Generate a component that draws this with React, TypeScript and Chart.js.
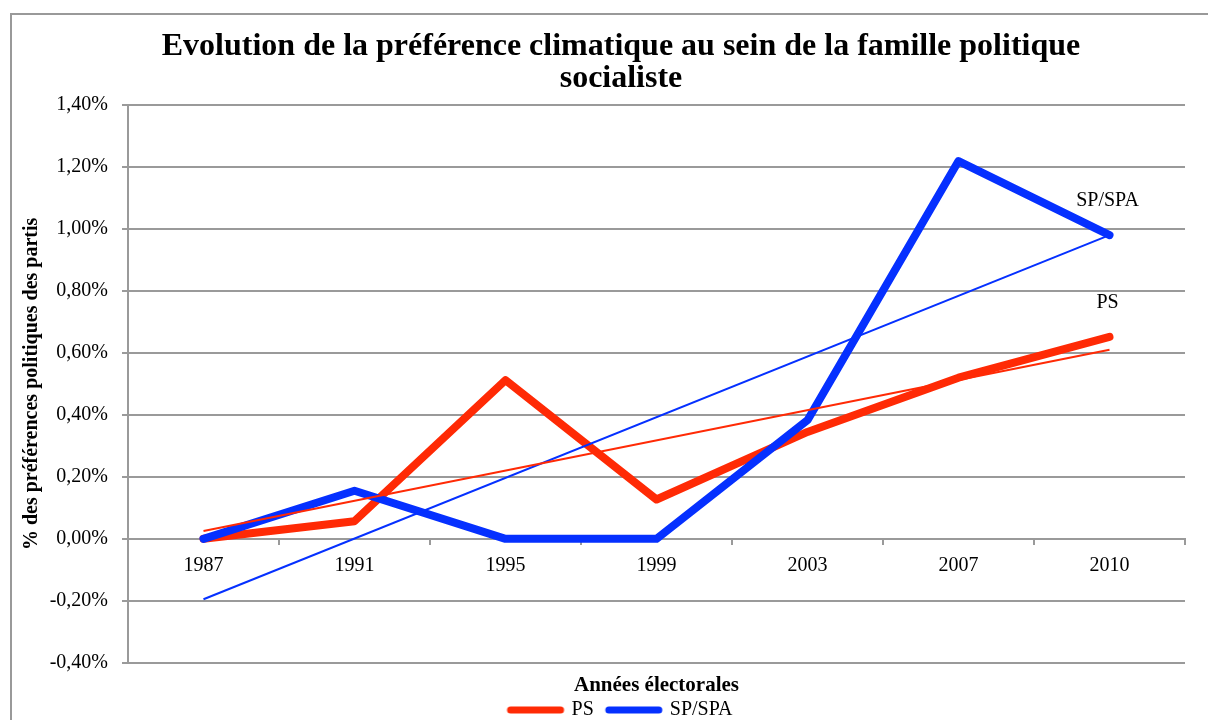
import React, { useEffect, useRef } from 'react';
import { Chart, registerables } from 'chart.js';

Chart.register(...registerables);

const categories = ['1987', '1991', '1995', '1999', '2003', '2007', '2010'];
const psValues = [0, 0.057, 0.512, 0.127, 0.345, 0.52, 0.652];
const spValues = [0, 0.155, 0, 0, 0.383, 1.219, 0.98];
const psTrend = [0.025, null, null, null, null, null, 0.61];
const spTrend = [-0.195, null, null, null, null, null, 0.98];
const seriesNames = ['PS', 'SP/SPA'];
const titleLines = ['Evolution de la préférence climatique au sein de la famille politique', 'socialiste'];
const yTitle = '% des préférences politiques des partis';
const xTitle = 'Années électorales';

const W = 1242;
const H = 730;
const SERIF = "'Liberation Serif', 'Times New Roman', Times, serif";
const RED = '#FF2A05';
const BLUE = '#0530FF';
const GRID = '#9a9a9a';

const fmt = (v: number) => {
  const r = Math.round(v * 100) / 100;
  return r.toFixed(2).replace('.', ',') + '%';
};

const legendLine = (color: string) => {
  const c = document.createElement('canvas');
  c.width = 60;
  c.height = 10;
  const g = c.getContext('2d') as CanvasRenderingContext2D;
  g.strokeStyle = color;
  g.lineWidth = 7;
  g.lineCap = 'round';
  g.beginPath();
  g.moveTo(5, 5);
  g.lineTo(55, 5);
  g.stroke();
  return c;
};

const frame = {
  id: 'frame',
  beforeDraw(chart: any) {
    const ctx = chart.ctx;
    ctx.save();
    ctx.fillStyle = '#fff';
    ctx.fillRect(0, 0, chart.width, chart.height);
    ctx.strokeStyle = '#999';
    ctx.lineWidth = 2;
    ctx.strokeRect(11, 14, chart.width + 20, chart.height + 20);
    ctx.restore();
  },
};

const endLabels = {
  id: 'endLabels',
  afterDatasetsDraw(chart: any) {
    const ctx = chart.ctx;
    ctx.save();
    ctx.font = `20px ${SERIF}`;
    ctx.fillStyle = '#000';
    ctx.textAlign = 'center';
    ctx.textBaseline = 'middle';
    [0, 1].forEach((i) => {
      const meta = chart.getDatasetMeta(i);
      const pt = meta.data[meta.data.length - 1];
      if (pt) ctx.fillText(seriesNames[i], pt.x - 2, pt.y - 34);
    });
    ctx.restore();
  },
};

export default function App() {
  const ref = useRef<HTMLCanvasElement>(null);
  useEffect(() => {
    document.body.style.margin = '0';
    document.body.style.overflow = 'hidden';
    document.documentElement.style.overflow = 'hidden';
    const chart = new Chart(ref.current as HTMLCanvasElement, {
      type: 'line',
      data: {
        labels: categories,
        datasets: [
          {
            label: seriesNames[0],
            data: psValues,
            borderColor: RED,
            backgroundColor: RED,
            borderWidth: 8,
            pointRadius: 0,
            pointStyle: legendLine(RED),
            borderCapStyle: 'round',
            borderJoinStyle: 'round',
            tension: 0,
            order: 3,
          },
          {
            label: seriesNames[1],
            data: spValues,
            borderColor: BLUE,
            backgroundColor: BLUE,
            borderWidth: 8,
            pointRadius: 0,
            pointStyle: legendLine(BLUE),
            borderCapStyle: 'round',
            borderJoinStyle: 'round',
            tension: 0,
            order: 2,
          },
          {
            label: 'trend PS',
            data: psTrend,
            borderColor: RED,
            borderWidth: 2,
            pointRadius: 0,
            spanGaps: true,
            order: 1,
          },
          {
            label: 'trend SP',
            data: spTrend,
            borderColor: BLUE,
            borderWidth: 2,
            pointRadius: 0,
            spanGaps: true,
            order: 1,
          },
        ] as any,
      },
      options: {
        responsive: false,
        animation: false,
        devicePixelRatio: 1,
        color: '#000',
        layout: { padding: { left: 0, right: 0, top: 0, bottom: 0 } },
        font: { family: SERIF, size: 20 },
        plugins: {
          tooltip: { enabled: false },
          title: {
            display: true,
            text: titleLines,
            color: '#000',
            font: { family: SERIF, size: 32, weight: 'bold', lineHeight: 1.0 },
            padding: { top: 31, bottom: 10 },
          },
          legend: {
            position: 'bottom',
            labels: {
              filter: (item: any) => item.datasetIndex < 2,
              sort: (a: any, b: any) => a.datasetIndex - b.datasetIndex,
              usePointStyle: true,
              pointStyleWidth: 52,
              color: '#000',
              padding: 14,
              font: { family: SERIF, size: 20 },
            },
          },
        },
        scales: {
          x: {
            type: 'category',
            position: { y: 0 } as any,
            offset: true,
            afterFit: (s: any) => { s.height = 0; },
            grid: {
              offset: true,
              drawOnChartArea: false,
              drawTicks: true,
              tickLength: 5,
              color: GRID,
              lineWidth: 2,
            },
            border: { display: true, color: GRID, width: 2 },
            ticks: { color: '#000', padding: 10, font: { family: SERIF, size: 20 }, maxRotation: 0 },
          },
          x2: {
            type: 'category',
            position: 'bottom',
            grid: { display: false, drawTicks: false },
            border: { display: false },
            ticks: { display: false },
            title: {
              display: true,
              text: xTitle,
              color: '#000',
              font: { family: SERIF, size: 21, weight: 'bold', lineHeight: 1.2 },
              padding: { top: 10, bottom: -12 },
            },
          },
          y: {
            type: 'linear',
            position: 'left',
            min: -0.4,
            max: 1.4,
            afterFit: (s: any) => { s.width = 128; },
            ticks: {
              stepSize: 0.2,
              color: '#000',
              padding: 14,
              font: { family: SERIF, size: 20 },
              callback: (v: any) => fmt(Number(v)),
            },
            grid: { color: GRID, lineWidth: 2, tickLength: 6, drawTicks: true },
            border: { display: true, color: GRID, width: 2 },
            title: {
              display: true,
              text: yTitle,
              color: '#000',
              font: { family: SERIF, size: 20, weight: 'bold', lineHeight: 1.2 },
              padding: { top: 20, bottom: 0 },
            },
          },
          yR: {
            type: 'linear',
            position: 'right',
            min: -0.4,
            max: 1.4,
            afterFit: (s: any) => { s.width = W - 1185; },
            grid: { display: false, drawTicks: false },
            border: { display: false },
            ticks: { display: false },
          },
        },
      } as any,
      plugins: [frame, endLabels],
    });
    return () => chart.destroy();
  }, []);
  return (
    <div style={{ width: W, height: H, overflow: 'hidden' }}>
      <canvas ref={ref} width={W} height={H} style={{ display: 'block' }} />
    </div>
  );
}
